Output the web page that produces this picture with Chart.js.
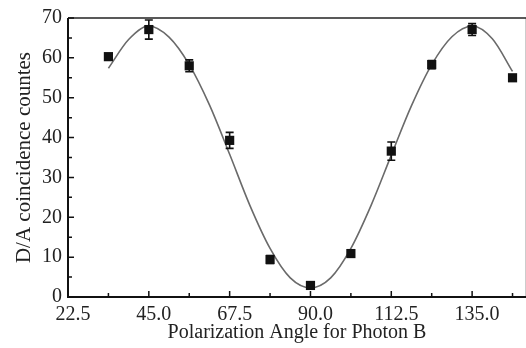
<!DOCTYPE html>
<html>
<head>
<meta charset="utf-8">
<script src="https://cdn.jsdelivr.net/npm/chart.js@4/dist/chart.umd.min.js"></script>
<style>
    html, body { margin: 0; padding: 0; background: #fff; }
    #wrap { width: 526px; height: 348px; }
</style>
</head>
<body>
<div id="wrap"><canvas id="angleChart" width="526" height="348"></canvas></div>
<script>
// measured points
const angles = [33.75, 45, 56.25, 67.5, 78.75, 90, 101.25, 112.5, 123.75, 135, 146.25];
const counts = [60.3, 67.1, 58.0, 39.3, 9.4, 2.9, 10.9, 36.6, 58.3, 67.1, 55.0];
const errors = [0, 2.4, 1.5, 2.0, 1.0, 0, 0, 2.3, 1.0, 1.5, 0];

// fitted curve
const fitAngles = [33.75, 39.375, 45, 50.625, 56.25, 61.875, 67.5, 73.125, 78.75, 84.375, 90,
    95.625, 101.25, 106.875, 112.5, 118.125, 123.75, 129.375, 135, 140.625, 146.25];
const fitCounts = [57.4, 64.6, 68.0, 65.2, 58.3, 48.2, 35.8, 23.0, 12.2, 4.8, 2.3,
    4.8, 12.2, 23.0, 35.6, 48.0, 58.3, 65.3, 68.0, 64.8, 56.6];

const xTicks = [22.5, 45.0, 67.5, 90.0, 112.5, 135.0];
const yTicks = [0, 10, 20, 30, 40, 50, 60, 70];

const serif = "'Liberation Serif', 'DejaVu Serif', serif";

// inward ticks, frame and error bars
const decorations = {
    id: "decorations",
    afterDatasetsDraw(chart) {
        const ctx = chart.ctx;
        const x = chart.scales.x;
        const y = chart.scales.y;
        const area = chart.chartArea;
        ctx.save();

        // error bars
        ctx.strokeStyle = "#111";
        ctx.lineWidth = 1.6;
        angles.forEach((a, i) => {
            if (!errors[i]) return;
            const px = x.getPixelForValue(a);
            const top = y.getPixelForValue(counts[i] + errors[i]);
            const bot = y.getPixelForValue(counts[i] - errors[i]);
            ctx.beginPath();
            ctx.moveTo(px, top); ctx.lineTo(px, bot);
            ctx.moveTo(px - 4, top); ctx.lineTo(px + 4, top);
            ctx.moveTo(px - 4, bot); ctx.lineTo(px + 4, bot);
            ctx.stroke();
        });

        // frame
        ctx.strokeStyle = "#ccc";
        ctx.lineWidth = 1;
        ctx.beginPath();
        ctx.moveTo(area.right - 0.5, area.top);
        ctx.lineTo(area.right - 0.5, area.bottom);
        ctx.stroke();
        ctx.strokeStyle = "#222";
        ctx.lineWidth = 1.5;
        ctx.beginPath();
        ctx.moveTo(area.left, area.top);
        ctx.lineTo(area.right, area.top);
        ctx.stroke();
        ctx.strokeStyle = "#111";
        ctx.lineWidth = 2;
        ctx.beginPath();
        ctx.moveTo(area.left, area.top);
        ctx.lineTo(area.left, area.bottom);
        ctx.lineTo(area.right, area.bottom);
        ctx.stroke();

        // ticks pointing into the plot
        ctx.lineWidth = 1.5;
        ctx.beginPath();
        for (let v = 22.5; v <= 150; v += 11.25) {
            const px = x.getPixelForValue(v);
            const len = xTicks.includes(v) ? 6 : 4;
            ctx.moveTo(px, area.bottom);
            ctx.lineTo(px, area.bottom - len);
        }
        for (let v = 0; v <= 70; v += 5) {
            const py = y.getPixelForValue(v);
            const len = v % 10 === 0 ? 6 : 4;
            ctx.moveTo(area.left, py);
            ctx.lineTo(area.left + len, py);
        }
        ctx.stroke();
        ctx.restore();
    },
};

new Chart(document.getElementById("angleChart").getContext("2d"), {
    type: "scatter",
    data: {
        datasets: [
            {
                label: "fit",
                type: "line",
                data: fitAngles.map((a, i) => ({ x: a, y: fitCounts[i] })),
                borderColor: "#6a6a6a",
                borderWidth: 1.6,
                pointRadius: 0,
                tension: 0.4,
                cubicInterpolationMode: "monotone",
                fill: false,
                order: 2,
            },
            {
                label: "data",
                data: angles.map((a, i) => ({ x: a, y: counts[i] })),
                pointStyle: "rect",
                pointRadius: 6.5,
                backgroundColor: "#111",
                borderColor: "#111",
                borderWidth: 0,
                order: 1,
            },
        ],
    },
    options: {
        responsive: false,
        animation: false,
        layout: { autoPadding: false, padding: { top: 15, right: 0, left: 0, bottom: 0 } },
        plugins: {
            legend: { display: false },
            tooltip: { enabled: false },
        },
        scales: {
            x: {
                type: "linear",
                min: 22.5,
                max: 150,
                afterBuildTicks: (scale) => {
                    scale.ticks = xTicks.map((v) => ({ value: v }));
                },
                afterFit: (scale) => { scale.height = 51; },
                border: { display: false },
                grid: { display: false, drawTicks: false },
                ticks: {
                    padding: 6,
                    labelOffset: 5,
                    maxRotation: 0,
                    autoSkip: false,
                    color: "#222",
                    font: { family: serif, size: 20 },
                    callback: (v) => v.toFixed(1),
                },
                title: {
                    display: true,
                    text: "Polarization Angle for Photon B",
                    color: "#222",
                    font: { family: serif, size: 20 },
                    padding: { top: 0, bottom: 3 },
                },
            },
            y: {
                min: 0,
                max: 70,
                afterBuildTicks: (scale) => {
                    scale.ticks = yTicks.map((v) => ({ value: v }));
                },
                afterFit: (scale) => { scale.width = 68; },
                border: { display: false },
                grid: { display: false, drawTicks: false },
                ticks: {
                    padding: 6,
                    color: "#222",
                    font: { family: serif, size: 20 },
                },
                title: {
                    display: true,
                    text: "D/A coincidence countes",
                    color: "#222",
                    font: { family: serif, size: 21 },
                    padding: { top: 12, bottom: 0 },
                },
            },
        },
    },
    plugins: [decorations],
});
</script>
</body>
</html>
